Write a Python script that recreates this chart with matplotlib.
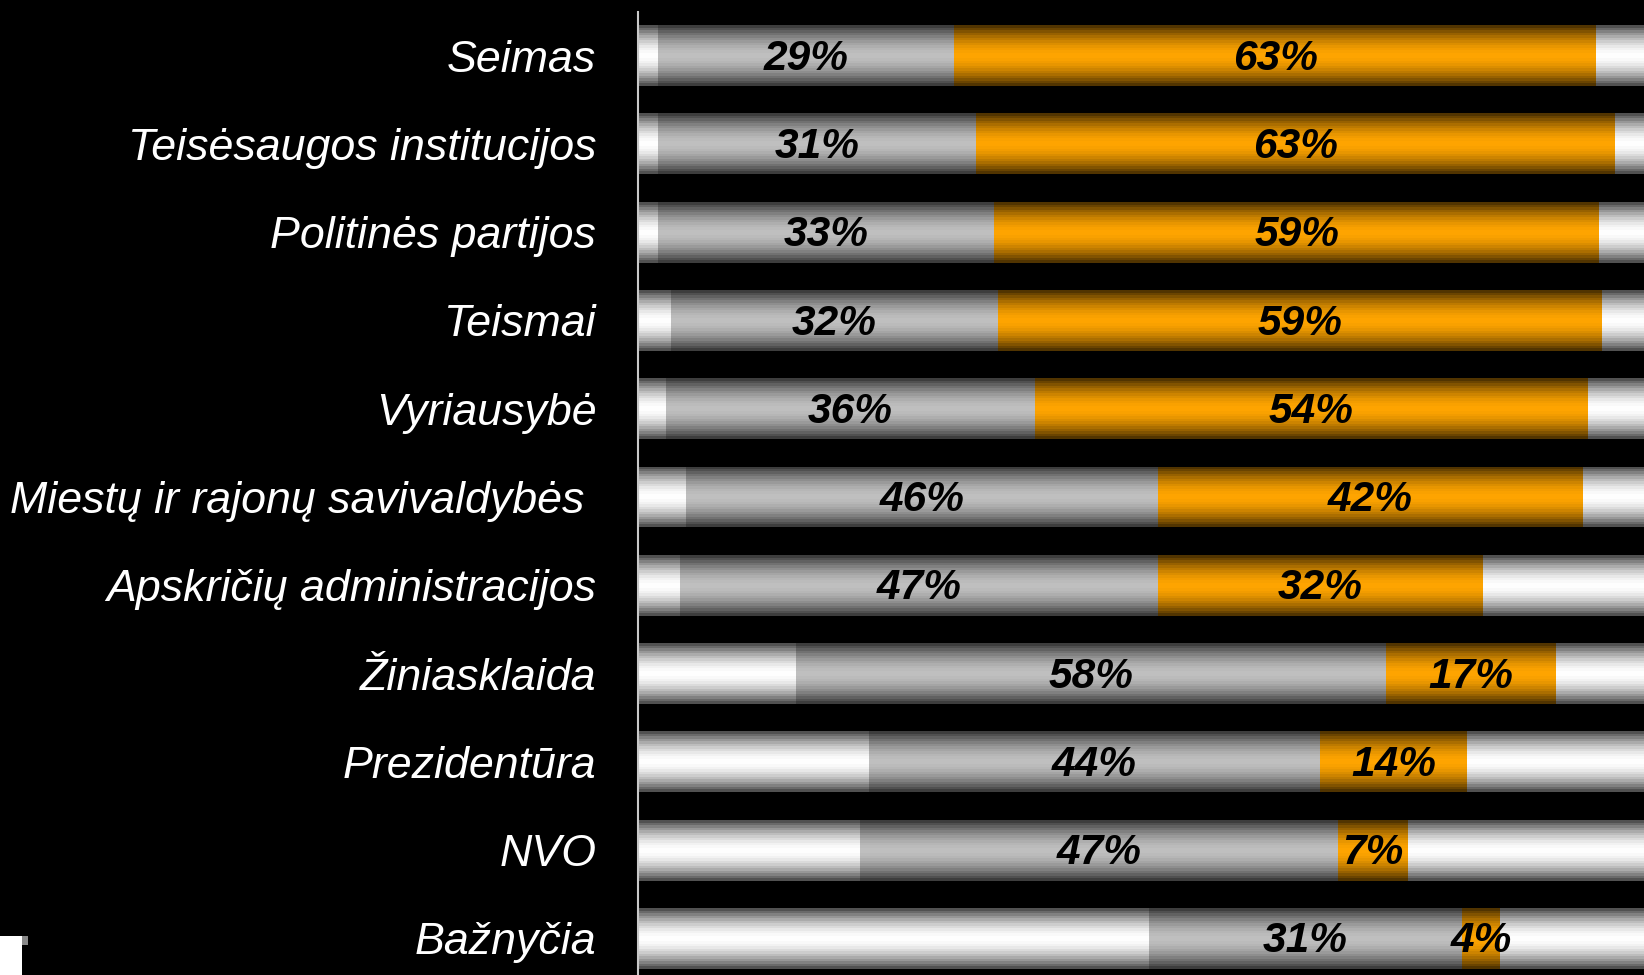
import matplotlib
matplotlib.use("Agg")
import matplotlib.pyplot as plt
import numpy as np
from matplotlib.patches import Rectangle

plt.rcParams['font.family'] = ['Liberation Sans', 'DejaVu Sans']

# data (percent)
categories = ["Seimas", "Teisėsaugos institucijos", "Politinės partijos", "Teismai",
              "Vyriausybė", "Miestų ir rajonų savivaldybės ", "Apskričių administracijos",
              "Žiniasklaida", "Prezidentūra", "NVO", "Bažnyčia"]
white_first = [1.95, 1.95, 1.95, 3.2, 2.7, 4.7, 4.1, 15.5, 22.6, 21.8, 50.1]
gray_vals = [29.0, 31.2, 33.0, 32.1, 36.2, 46.3, 46.9, 57.8, 44.3, 46.8, 30.7]
orange_vals = [63.0, 62.6, 59.3, 59.2, 54.2, 41.6, 31.8, 16.7, 14.4, 6.9, 3.7]

white_first = np.array(white_first)
gray_vals = np.array(gray_vals)
orange_vals = np.array(orange_vals)
white_last = 100 - white_first - gray_vals - orange_vals

W, H = 1644, 975
fig = plt.figure(figsize=(W / 100, H / 100), dpi=100, facecolor='black')
# axes runs past the right edge of the picture, like the original crop
ax = fig.add_axes([638 / W, 0, 1020 / W, 1])
ax.set_facecolor('black')

y = np.arange(len(categories))
bar_h = 0.69

# vertical shading: dark at the edges, full colour in the middle (stepped, like the original)
t = np.linspace(0, 1, 24)
shade = 1 - 0.68 * np.abs(2 * t - 1) ** 1.7


def grad_bars(lefts, widths, color):
    bars = ax.barh(y, widths, left=lefts, height=bar_h, color=color, linewidth=0)
    col = np.array(matplotlib.colors.to_rgb(color))
    img = (shade[:, None, None] * col[None, None, :])
    for b in bars:
        x0, y0 = b.get_x(), b.get_y()
        im = ax.imshow(img, extent=[x0, x0 + b.get_width(), y0 + b.get_height(), y0],
                       aspect='auto', interpolation='nearest', zorder=2)
        im.set_clip_path(b)
    return bars


def pct_labels(lefts, vals):
    for yi, l, v in zip(y, lefts, vals):
        ax.text(l + v / 2, yi + 0.035, f"{v:.0f}%", ha='center', va='center', fontsize=30.5,
                fontweight='bold', fontstyle='italic', color='black', zorder=5)


left = np.zeros(len(categories))
grad_bars(left, white_first, '#ffffff')
left = left + white_first
grad_bars(left, gray_vals, '#c0c0c0')
pct_labels(left, gray_vals)
left = left + gray_vals
grad_bars(left, orange_vals, '#ffa500')
pct_labels(left, orange_vals)
left = left + orange_vals
grad_bars(left, white_last, '#ffffff')

row_px = 88.28
top = -55.6 / row_px
bottom = (H - 55.6) / row_px
ax.set_xlim(0, 100)
ax.set_ylim(bottom, top)
ax.plot([0, 0], [(12 - 55.6) / row_px, bottom], color='#c8c8c8', lw=1.5, zorder=6,
        clip_on=False)

ax.set_yticks(y, categories)
ax.tick_params(axis='y', length=0, pad=30, labelsize=32.2, labelcolor='white')
for lab in ax.get_yticklabels():
    lab.set_fontstyle('italic')
ax.set_xticks([])
for s in ax.spines.values():
    s.set_visible(False)

# small white scrap in the lower left corner of the original
fig.patches.append(Rectangle((0, 0), 22 / W, 39 / H, transform=fig.transFigure,
                             facecolor='white', edgecolor='none'))
fig.patches.append(Rectangle((22 / W, 30 / H), 6 / W, 9 / H, transform=fig.transFigure,
                             facecolor='#888888', edgecolor='none'))

fig.savefig('out.png', dpi=100, facecolor='black')
